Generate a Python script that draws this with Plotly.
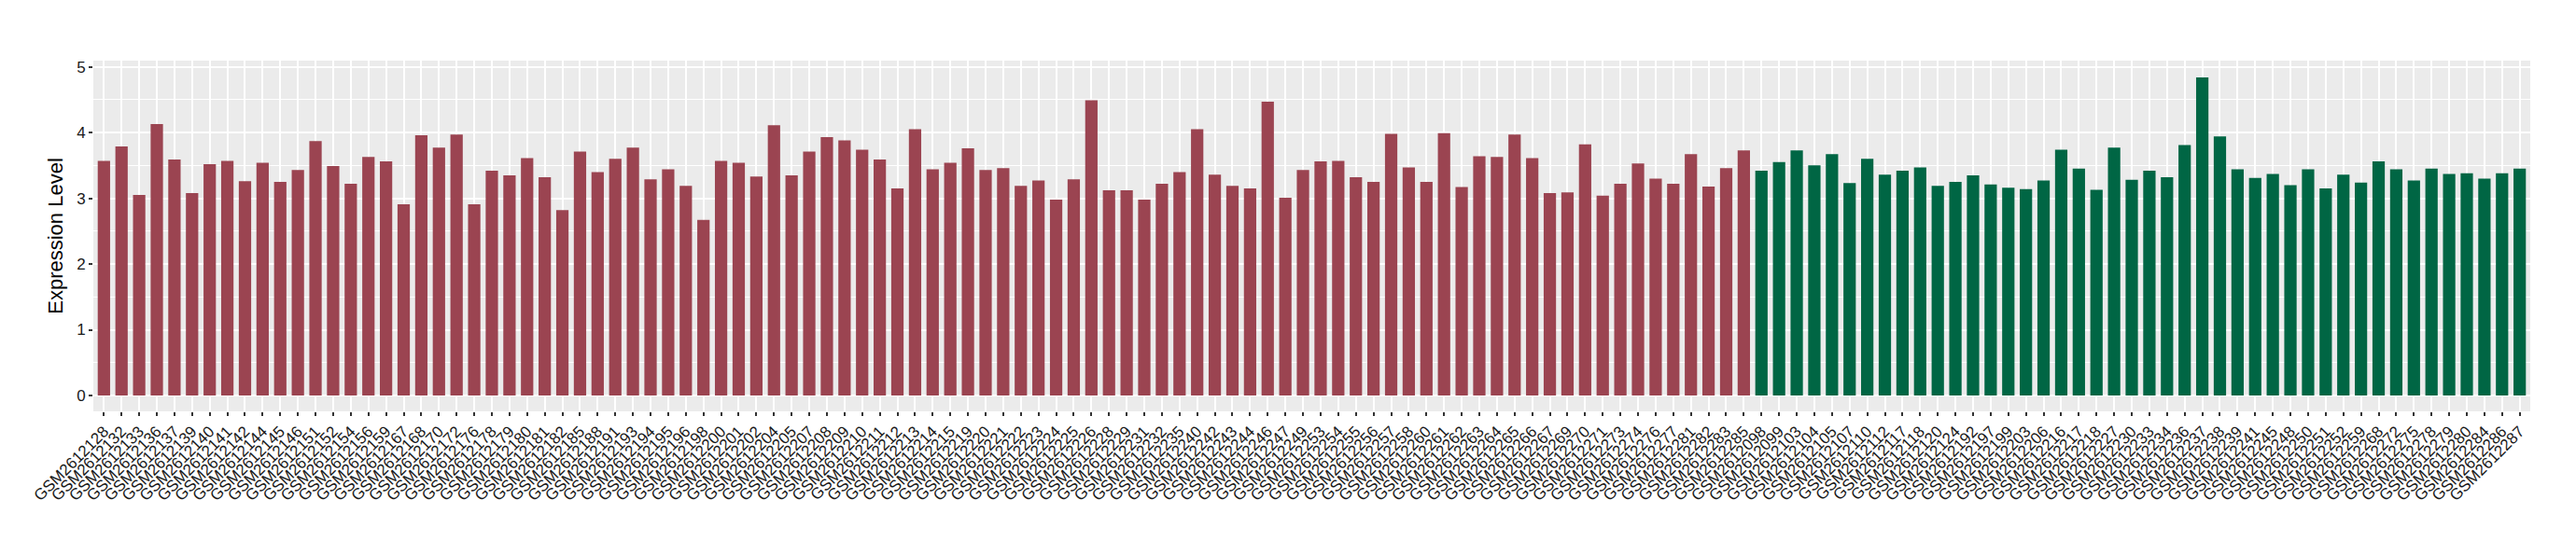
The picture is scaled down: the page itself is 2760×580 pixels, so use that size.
import plotly.graph_objects as go

red_ids = [128,132,133,136,137,139,140,141,142,144,145,146,151,152,154,156,159,167,168,170,
           172,176,178,179,180,181,182,185,188,191,193,194,195,196,198,200,201,202,204,205,
           207,208,209,210,211,212,213,214,215,219,220,221,222,223,224,225,226,228,229,231,
           232,235,240,242,243,244,246,247,249,253,254,255,256,257,258,260,261,262,263,264,
           265,266,267,269,270,271,273,274,276,277,281,282,283,285]
red_vals = [3.57,3.79,3.05,4.13,3.59,3.08,3.52,3.57,3.26,3.54,3.25,3.43,3.87,3.49,3.22,3.63,3.56,2.91,3.96,3.77,
            3.97,2.91,3.42,3.35,3.61,3.32,2.82,3.71,3.40,3.60,3.77,3.29,3.44,3.19,2.67,3.57,3.54,3.33,4.11,3.35,
            3.71,3.93,3.88,3.74,3.59,3.15,4.05,3.44,3.54,3.76,3.43,3.46,3.19,3.27,2.98,3.29,4.49,3.12,3.12,2.98,
            3.22,3.40,4.05,3.36,3.19,3.15,4.47,3.01,3.43,3.56,3.57,3.32,3.25,3.98,3.47,3.25,3.99,3.17,3.64,3.63,
            3.97,3.61,3.08,3.09,3.82,3.04,3.22,3.53,3.30,3.22,3.67,3.18,3.46,3.73]

green_ids = ["098","099",103,104,105,107,110,112,117,118,120,124,192,197,199,203,206,216,217,218,
             227,230,233,234,236,237,238,239,241,245,248,250,251,252,259,268,272,275,278,279,
             280,284,286,287]
green_vals = [3.42,3.55,3.73,3.50,3.67,3.23,3.60,3.36,3.42,3.47,3.19,3.25,3.35,3.21,3.16,3.14,3.27,3.74,3.45,3.13,
              3.77,3.28,3.42,3.32,3.81,4.84,3.94,3.44,3.31,3.37,3.20,3.44,3.15,3.36,3.24,3.56,3.44,3.27,3.45,3.37,
              3.38,3.30,3.38,3.45]

red_labels = ["GSM2612%s" % i for i in red_ids]
green_labels = ["GSM2612%s" % i for i in green_ids]
all_labels = red_labels + green_labels

RED = "#9B4451"
GREEN = "#006644"

fig = go.Figure()
fig.add_trace(go.Bar(x=red_labels, y=red_vals, marker=dict(color=RED, line=dict(width=0)),
                     width=0.7, showlegend=False))
fig.add_trace(go.Bar(x=green_labels, y=green_vals, marker=dict(color=GREEN, line=dict(width=0)),
                     width=0.7, showlegend=False))

fig.update_layout(
    width=2760, height=580,
    margin=dict(l=92, r=57, t=57, b=147),
    paper_bgcolor="white", plot_bgcolor="#EBEBEB",
    font=dict(family="Liberation Sans, Arial", color="black"),
    bargap=0.3,
)
fig.update_xaxes(
    type="category", categoryorder="array", categoryarray=all_labels,
    range=[-0.6, len(all_labels) - 0.4],
    tickmode="linear", tick0=0, dtick=1,
    tickangle=-45, tickfont=dict(size=17, color="#1a1a1a"),
    showgrid=True, gridcolor="white", gridwidth=2,
    ticks="outside", ticklen=4, tickwidth=1.5, tickcolor="#333333",
    showline=False, zeroline=False,
)
fig.update_yaxes(
    range=[-0.241, 5.094], tickvals=[0, 1, 2, 3, 4, 5],
    tickfont=dict(size=17, color="#1a1a1a"),
    title=dict(text="Expression Level", font=dict(size=22, color="black"), standoff=8),
    showgrid=True, gridcolor="white", gridwidth=2,
    minor=dict(tickvals=[0.5, 1.5, 2.5, 3.5, 4.5], showgrid=True, gridcolor="white", gridwidth=1),
    ticks="outside", ticklen=4, tickwidth=1.5, tickcolor="#333333",
    showline=False, zeroline=False,
)

fig.write_html("out.html")
